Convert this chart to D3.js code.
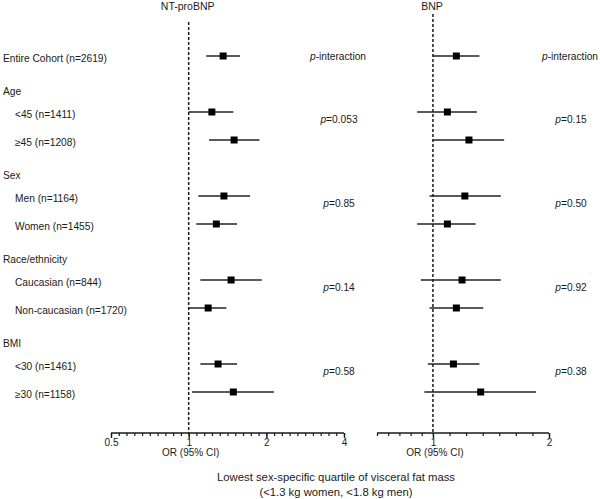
<!DOCTYPE html>
<html><head><meta charset="utf-8">
<script src="https://cdn.jsdelivr.net/npm/d3@7"></script>
<style>
html,body{margin:0;padding:0;background:#fff;}
svg{display:block;font-family:"Liberation Sans",Arial,sans-serif;}
</style></head>
<body><svg id="c" width="600" height="499"></svg>
<script>
// ---- data ----
const rowLabels = ["Entire Cohort (n=2619)", "Age", "<45 (n=1411)", "\u226545 (n=1208)", "Sex", "Men (n=1164)", "Women (n=1455)", "Race/ethnicity", "Caucasian (n=844)", "Non-caucasian (n=1720)", "BMI", "<30 (n=1461)", "\u226530 (n=1158)"];
const rowIsHeader = [false, true, false, false, true, false, false, true, false, false, true, false, false];
const rowIsSub = [false, false, true, true, false, true, true, false, true, true, false, true, true];

const ntOR = [1.36, null, 1.23, 1.50, null, 1.37, 1.28, null, 1.46, 1.19, null, 1.30, 1.49];
const ntLo = [1.17, null, 1.00, 1.20, null, 1.09, 1.07, null, 1.11, 1.00, null, 1.11, 1.03];
const ntHi = [1.58, null, 1.49, 1.88, null, 1.73, 1.54, null, 1.92, 1.40, null, 1.54, 2.14];

const bnpOR = [1.15, null, 1.09, 1.24, null, 1.21, 1.09, null, 1.19, 1.15, null, 1.13, 1.33];
const bnpLo = [1.00, null, 0.91, 1.00, null, 0.98, 0.91, null, 0.93, 0.98, null, 0.97, 0.95];
const bnpHi = [1.32, null, 1.30, 1.53, null, 1.50, 1.29, null, 1.50, 1.35, null, 1.32, 1.85];

const pGroups = ["Age", "Sex", "Race/ethnicity", "BMI"];
const ntP = ["0.053", "0.85", "0.14", "0.58"];
const bnpP = ["0.15", "0.50", "0.92", "0.38"];

const ntTicks = [0.5, 1, 2, 4];
const bnpTicks = [1, 2];
const ntTickLabels = ["0.5", "1", "2", "4"];
const bnpTickLabels = ["1", "2"];

const panelTitles = ["NT-proBNP", "BNP"];
const axisLabel = "OR (95% CI)";
const xTitle = ["Lowest sex-specific quartile of visceral fat mass", "(<1.3 kg women, <1.8 kg men)"];

// ---- layout ----
const svg = d3.select("#c");
const ink = "#1a1a1a";
const axisY = 433;

const y = d3.scaleLinear().domain([0, rowLabels.length - 1]).range([56, 392]);
const xNT = d3.scaleLog().base(2).domain([0.5, 4]).range([111, 344]);
const xBNP = d3.scaleLog().base(2).domain([0.716, 2]).range([377, 549]);

// row labels
svg.append("g").selectAll("text").data(rowLabels).join("text")
  .attr("x", (d, i) => rowIsSub[i] ? 15 : 3)
  .attr("y", (d, i) => y(i) + (rowIsHeader[i] ? 7 : 2))
  .attr("dy", "0.35em")
  .attr("font-size", 10.2)
  .attr("fill", ink)
  .text(d => d);

function panel(x, or, lo, hi, ticks, tickLabels, minor, title, pv, pX) {
  const g = svg.append("g");
  // reference dashed line at OR = 1
  g.append("line")
    .attr("x1", x(1)).attr("x2", x(1))
    .attr("y1", title === "BNP" ? 14 : 22).attr("y2", axisY)
    .attr("stroke", ink).attr("stroke-width", 1.5).attr("stroke-dasharray", "3,2");
  // minor ticks
  const minAx = d3.axisBottom(x).tickValues(minor).tickSize(3).tickSizeOuter(0).tickFormat("");
  const gm = g.append("g").attr("transform", `translate(0,${axisY})`).call(minAx);
  gm.select(".domain").remove();
  gm.selectAll("line").attr("stroke", ink).attr("stroke-width", 1.2);
  // major axis
  const ax = d3.axisBottom(x).tickValues(ticks).tickSize(5).tickSizeOuter(0)
    .tickFormat((d, i) => tickLabels[i]);
  const ga = g.append("g").attr("transform", `translate(0,${axisY})`).call(ax);
  ga.select(".domain").attr("stroke", ink).attr("stroke-width", 1.6)
    .attr("d", `M${x.range()[0]},0H${x.range()[1]}`);
  ga.selectAll(".tick line").attr("stroke", ink).attr("stroke-width", 1.4);
  ga.selectAll(".tick text").attr("font-size", 10).attr("fill", ink)
    .attr("font-family", "Liberation Sans, Arial, sans-serif").attr("y", 6).attr("dy", "0.71em");
  // axis label
  g.append("text").attr("x", x(1) + 2).attr("y", 456).attr("text-anchor", "middle")
    .attr("font-size", 10).attr("fill", ink).text(axisLabel);
  // title
  g.append("text").attr("x", x(1) - 1).attr("y", 10).attr("text-anchor", "middle")
    .attr("font-size", 10.5).attr("fill", ink).text(title);
  // CI lines
  const idx = d3.range(or.length).filter(i => or[i] != null);
  g.append("g").selectAll("line").data(idx).join("line")
    .attr("x1", i => x(lo[i])).attr("x2", i => x(hi[i]))
    .attr("y1", i => y(i)).attr("y2", i => y(i))
    .attr("stroke", "#222").attr("stroke-width", 1.5);
  const s = 7;
  g.append("g").selectAll("rect").data(idx).join("rect")
    .attr("x", i => x(or[i]) - s / 2).attr("y", i => y(i) - s / 2)
    .attr("width", s).attr("height", s).attr("fill", "#000");
  // p values
  const pg = g.append("g").attr("font-size", 10.2).attr("fill", ink).attr("text-anchor", "middle");
  const t0 = pg.append("text").attr("x", pX).attr("y", y(0)).attr("dy", "0.35em");
  t0.append("tspan").attr("font-style", "italic").text("p");
  t0.append("tspan").text("-interaction");
  pGroups.forEach((grp, k) => {
    const hi_ = rowLabels.indexOf(grp);
    const t = pg.append("text").attr("x", pX + 1).attr("y", y(hi_ + 1.27)).attr("dy", "0.35em");
    t.append("tspan").attr("font-style", "italic").text("p");
    t.append("tspan").text("=" + pv[k]);
  });
}

const ntMinor = d3.range(-10, 21).map(k => Math.pow(2, k / 10));
const bnpMinor = d3.range(0, 6).map(k => Math.pow(0.716, k / 5)).concat(d3.range(1, 8).map(k => Math.pow(2, k / 7)));

panel(xNT, ntOR, ntLo, ntHi, ntTicks, ntTickLabels, ntMinor, panelTitles[0], ntP, 338);
panel(xBNP, bnpOR, bnpLo, bnpHi, bnpTicks, bnpTickLabels, bnpMinor, panelTitles[1], bnpP, 570);

// bottom title
svg.append("g").selectAll("text").data(xTitle).join("text")
  .attr("x", 336).attr("y", (d, i) => 481 + i * 15)
  .attr("text-anchor", "middle").attr("font-size", 11.3).attr("fill", ink)
  .text(d => d);
</script></body></html>
